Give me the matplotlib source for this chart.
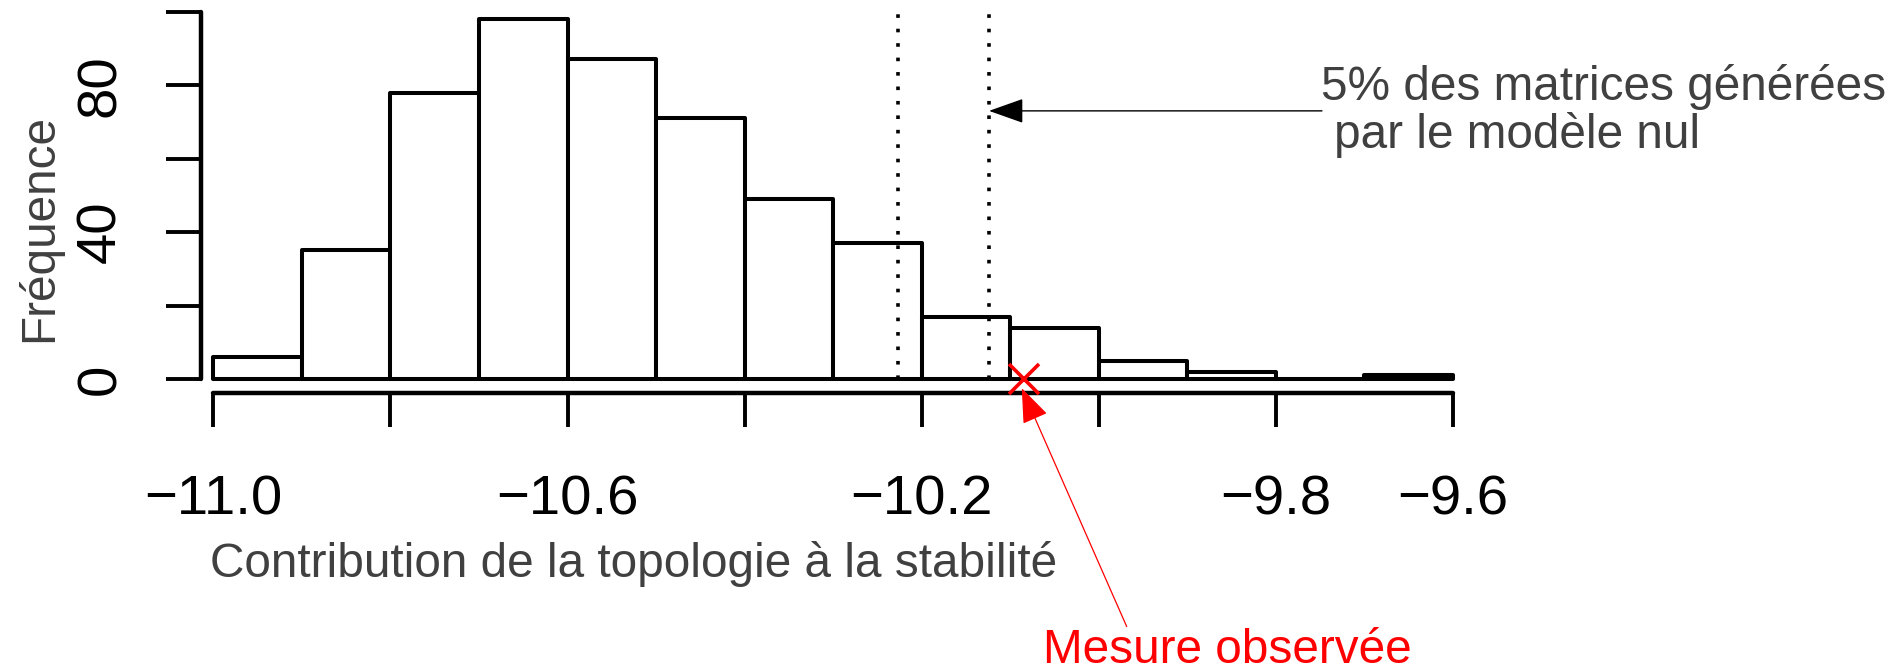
import matplotlib

matplotlib.use("Agg")

import matplotlib.pyplot as plt
import numpy as np

plt.rcParams["font.family"] = ["Liberation Sans", "DejaVu Sans"]

# histogram of the null model (500 matrices), bins of width 0.1
BIN_EDGES = [-11.0, -10.9, -10.8, -10.7, -10.6, -10.5, -10.4, -10.3,
             -10.2, -10.1, -10.0, -9.9, -9.8, -9.7, -9.6]
COUNTS = [6, 35, 78, 98, 87, 71, 49, 37, 17, 14, 5, 2, 0, 1]

# 5% thresholds of the null model and observed value
THRESHOLDS = [-10.227, -10.124]
OBSERVED = -10.085

X_TICKS = [-11.0, -10.8, -10.6, -10.4, -10.2, -10.0, -9.8, -9.6]
X_TICK_LABELS = ["\u221211.0", "", "\u221210.6", "", "\u221210.2", "", "\u22129.8", "\u22129.6"]
Y_TICKS = [0, 20, 40, 60, 80, 100]
Y_TICK_LABELS = ["0", "", "40", "", "80", ""]

X_LABEL = "Contribution de la topologie à la stabilité"
Y_LABEL = "Fréquence"
NOTE_LINES = ["5% des matrices générées", "par le modèle nul"]
OBSERVED_LABEL = "Mesure observée"

W, H = 1895, 670
GREY = "#404040"


def px(x: float, y: float) -> tuple[float, float]:
    # pixel position (top-left origin) -> figure fraction
    return x / W, 1 - y / H


def main() -> None:
    fig = plt.figure(figsize=(W / 100, H / 100), dpi=100)
    left, top = px(213.3, 11.7)
    _, bottom = px(0, 379.0)
    ax = fig.add_axes([left, bottom, (1453.0 - 213.3) / W, top - bottom])

    edges = np.array(BIN_EDGES)
    ax.bar(edges[:-1], COUNTS, width=np.diff(edges), align="edge",
           facecolor="white", edgecolor="black", linewidth=2.9,
           joinstyle="round", clip_on=False, zorder=2)

    for value in THRESHOLDS:
        ax.plot([value, value], [0, 100], color="black", linewidth=2.6,
                linestyle=(0, (1, 3)), clip_on=False, zorder=3)

    ax.plot([OBSERVED], [0], marker="x", color="red", markersize=21,
            markeredgewidth=2.6, clip_on=False, zorder=4)

    ax.set_xlim(BIN_EDGES[0], BIN_EDGES[-1])
    ax.set_ylim(0, 100)

    for side in ("top", "right"):
        ax.spines[side].set_visible(False)
    ax.spines["left"].set_position(("outward", 8.6))
    ax.spines["bottom"].set_position(("outward", 10.3))
    ax.spines["left"].set_bounds(0, 100)
    ax.spines["bottom"].set_bounds(BIN_EDGES[0], BIN_EDGES[-1])
    for side in ("left", "bottom"):
        ax.spines[side].set_linewidth(3.2)
        ax.spines[side].set_capstyle("round")

    ax.set_xticks(X_TICKS, labels=X_TICK_LABELS)
    ax.set_yticks(Y_TICKS, labels=Y_TICK_LABELS)
    ax.tick_params(axis="x", length=24.6, width=2.8, pad=34.0, labelsize=40.5)
    ax.tick_params(axis="y", length=25, width=2.8, pad=28.5, labelsize=40.5,
                   labelrotation=90)
    for label in ax.get_yticklabels():
        label.set_verticalalignment("center")

    # arrow towards the 5% threshold
    ax.annotate("", xy=(THRESHOLDS[1], 73.0), xytext=(-9.748, 73.0),
                annotation_clip=False,
                arrowprops=dict(arrowstyle="-|>,head_length=2.2,head_width=0.78",
                                mutation_scale=10, color="black", linewidth=1.0,
                                shrinkA=0, shrinkB=0))
    # arrow towards the observed value
    ax.annotate("", xy=(-10.087, -2.5), xytext=(-9.9685, -67.4),
                annotation_clip=False,
                arrowprops=dict(arrowstyle="-|>,head_length=2.2,head_width=0.84",
                                mutation_scale=10, color="red", linewidth=0.9,
                                shrinkA=0, shrinkB=0))

    fig.text(*px(52.5, 227.5), Y_LABEL, rotation=90, rotation_mode="anchor",
             ha="center", va="baseline", fontsize=34.4, color=GREY)
    fig.text(*px(210.0, 577.3), X_LABEL, ha="left", va="baseline",
             fontsize=34.4, color=GREY)
    fig.text(*px(1320.6, 100.0), NOTE_LINES[0], ha="left", va="baseline",
             fontsize=34.4, color=GREY)
    fig.text(*px(1334.0, 148.3), NOTE_LINES[1], ha="left", va="baseline",
             fontsize=34.4, color=GREY)
    fig.text(*px(1043.3, 663.3), OBSERVED_LABEL, ha="left", va="baseline",
             fontsize=34.4, color="red")

    fig.savefig("out.png", dpi=100)
    plt.close(fig)


if __name__ == "__main__":
    main()
